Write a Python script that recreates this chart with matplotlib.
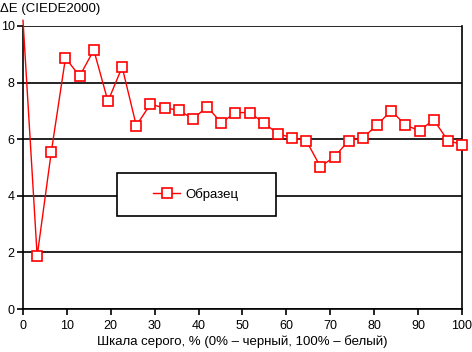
import numpy as np
import matplotlib
matplotlib.use("Agg")
from matplotlib import pyplot as plt
from matplotlib.patches import Rectangle

plt.rcParams['font.family'] = ['Liberation Sans', 'DejaVu Sans']

# grey level, % (32 steps from black to white)
gray = np.arange(32) * 100 / 31
delta_e = [10.2, 1.87, 5.56, 8.87, 8.23, 9.15, 7.34, 8.55, 6.48, 7.24,
           7.10, 7.03, 6.71, 7.15, 6.58, 6.94, 6.94, 6.58, 6.19, 6.05,
           5.95, 5.03, 5.38, 5.95, 6.05, 6.50, 7.01, 6.50, 6.30, 6.69,
           5.95, 5.81]
xticks = [0, 10, 20, 30, 40, 50, 60, 70, 80, 90, 100]
yticks = [0, 2, 4, 6, 8, 10]

W, H = 472, 352
fig = plt.figure(figsize=(W/100, H/100), dpi=100)
ax = fig.add_axes([23/W, 1 - 309/H, 439/W, 283/H])

ax.plot(gray, delta_e, color='red', lw=1, marker='s', ms=7,
        markevery=list(range(1, len(gray))),
        mfc='white', mec='red', mew=1.2, label='Образец', clip_on=False, zorder=5)
ax.set_xlim(0, 100)
ax.set_ylim(0, 10)
ax.set_xticks(xticks)
ax.set_yticks(yticks)
ax.grid(axis='y', color='black', lw=1.2)
ax.set_axisbelow(True)
for s in ['left', 'bottom', 'right']:
    ax.spines[s].set_linewidth(1.2)
ax.spines['top'].set_visible(False)
ax.tick_params(axis='both', direction='out', length=4, width=1.2, labelsize=9, pad=2)
ax.tick_params(axis='x', pad=4)

# legend box
box = Rectangle((117/W, 1 - 216/H), 159/W, 43/H, transform=fig.transFigure,
                facecolor='white', edgecolor='black', lw=1.2, zorder=3)
ax.add_patch(box)
box.set_clip_on(False)
leg = ax.legend(loc='center', bbox_to_anchor=(196/W, 1 - 194.5/H),
                bbox_transform=fig.transFigure, fontsize=9.5, frameon=False,
                handlelength=2.05, handletextpad=0.4)
leg.set_zorder(4)

fig.text(0/W, 1 - 9/H, 'ΔE (CIEDE2000)', fontsize=9.5, va='center', ha='left')
ax.set_xlabel('Шкала серого, % (0% – черный, 100% – белый)', fontsize=9.5, labelpad=2)

fig.savefig('out.png', dpi=100)
